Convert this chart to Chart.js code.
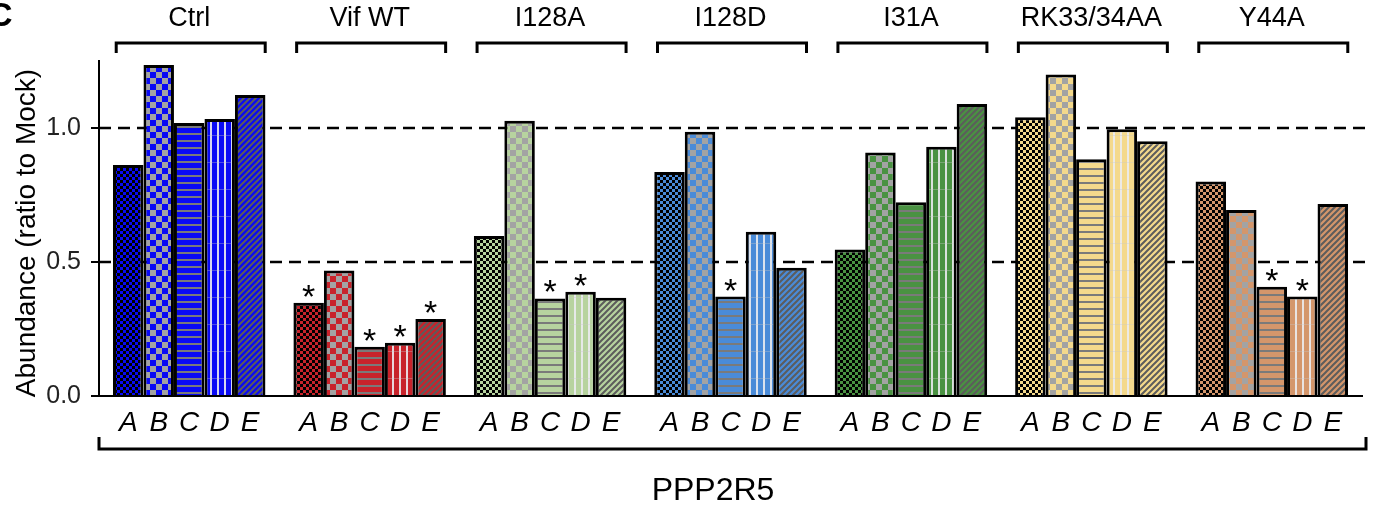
<!DOCTYPE html>
<html>
<head>
<meta charset="utf-8">
<script src="https://cdn.jsdelivr.net/npm/chart.js@4"></script>
<style>
  html, body { margin: 0; padding: 0; background: #fff; }
  canvas { display: block; }
</style>
</head>
<body>
<canvas id="chart" width="1379" height="513"></canvas>
<script>
// groups and sub-bars
const groups = ["Ctrl", "Vif WT", "I128A", "I128D", "I31A", "RK33/34AA", "Y44A"];
const letters = ["A", "B", "C", "D", "E"];
const groupColors = ["#0a0af5", "#c8232b", "#b7d39f", "#4a8bd8", "#4a9242", "#f4d98c", "#d4966b"];

// values per letter, one per group
const valsA = [0.862, 0.348, 0.597, 0.836, 0.547, 1.040, 0.800];
const valsB = [1.235, 0.468, 1.027, 0.986, 0.909, 1.200, 0.694];
const valsC = [1.019, 0.184, 0.364, 0.371, 0.723, 0.883, 0.408];
const valsD = [1.034, 0.199, 0.389, 0.613, 0.930, 0.995, 0.371];
const valsE = [1.123, 0.287, 0.367, 0.479, 1.090, 0.951, 0.716];

// significance stars
const sigA = [0, 1, 0, 0, 0, 0, 0];
const sigB = [0, 0, 0, 0, 0, 0, 0];
const sigC = [0, 1, 1, 1, 0, 0, 1];
const sigD = [0, 1, 1, 0, 0, 0, 1];
const sigE = [0, 1, 0, 0, 0, 0, 0];

const yTicks = [0, 0.5, 1.0];
const refLines = [0.5, 1.0];

const allVals = [valsA, valsB, valsC, valsD, valsE];
const allSig = [sigA, sigB, sigC, sigD, sigE];
const FONT = '"Liberation Sans", Arial, sans-serif';

function makePattern(type, color) {
  const c = document.createElement('canvas');
  const g = c.getContext('2d');
  if (type === 0) {          // fine black checker
    c.width = 6; c.height = 6;
    g.fillStyle = color; g.fillRect(0, 0, 6, 6);
    g.fillStyle = '#000';
    g.fillRect(0, 0, 3, 3); g.fillRect(3, 3, 3, 3);
  } else if (type === 1) {   // coarse grey checker
    c.width = 12; c.height = 12;
    g.fillStyle = color; g.fillRect(0, 0, 12, 12);
    g.fillStyle = '#a3a3a3';
    g.fillRect(0, 0, 6, 6); g.fillRect(6, 6, 6, 6);
  } else if (type === 2) {   // horizontal stripes
    c.width = 8; c.height = 7;
    g.fillStyle = color; g.fillRect(0, 0, 8, 7);
    g.fillStyle = '#7a7a7a';
    g.fillRect(0, 0, 8, 2);
  } else if (type === 3) {   // vertical light stripes
    c.width = 7; c.height = 27;
    g.fillStyle = color; g.fillRect(0, 0, 7, 27);
    g.fillStyle = 'rgba(235,235,240,0.9)';
    g.fillRect(0, 0, 2, 27);
    g.fillStyle = 'rgba(200,200,200,0.35)';
    g.fillRect(0, 0, 7, 1);
  } else {                   // diagonal stripes
    c.width = 6; c.height = 6;
    g.fillStyle = color; g.fillRect(0, 0, 6, 6);
    g.strokeStyle = '#5c5c5c'; g.lineWidth = 2;
    g.beginPath();
    g.moveTo(-1, 1); g.lineTo(1, -1);
    g.moveTo(0, 6); g.lineTo(6, 0);
    g.moveTo(5, 7); g.lineTo(7, 5);
    g.stroke();
  }
  return g.createPattern(c, 'repeat');
}

const datasets = letters.map((l, i) => ({
  label: l,
  data: allVals[i],
  backgroundColor: groupColors.map(col => makePattern(i, col)),
  borderColor: '#000',
  borderWidth: 3,
  categoryPercentage: 0.845,
  barPercentage: 1.0
}));

const decor = {
  id: 'decor',
  beforeDatasetsDraw(chart) {
    const { ctx, chartArea, scales } = chart;
    ctx.save();
    ctx.strokeStyle = '#000';
    ctx.lineWidth = 2.5;
    ctx.setLineDash([12, 7]);
    refLines.forEach(v => {
      const y = Math.round(scales.y.getPixelForValue(v));
      ctx.beginPath();
      ctx.moveTo(chartArea.left, y);
      ctx.lineTo(chartArea.right + 4, y);
      ctx.stroke();
    });
    ctx.restore();
  },
  afterDraw(chart) {
    const { ctx, chartArea, scales } = chart;
    ctx.save();
    ctx.fillStyle = '#000';
    ctx.textAlign = 'center';

    // stars and letters under bars
    letters.forEach((l, d) => {
      const meta = chart.getDatasetMeta(d);
      meta.data.forEach((bar, g) => {
        if (allSig[d][g]) {
          ctx.font = '34px ' + FONT;
          ctx.textBaseline = 'alphabetic';
          ctx.fillText('*', bar.x, bar.y + 5);
        }
        ctx.font = 'italic 28px ' + FONT;
        ctx.textBaseline = 'middle';
        ctx.fillText(l, bar.x, 423);
      });
    });

    // group labels + brackets
    ctx.lineWidth = 3;
    ctx.strokeStyle = '#000';
    groups.forEach((name, g) => {
      const cx = scales.x.getPixelForValue(g);
      ctx.font = '27px ' + FONT;
      ctx.textBaseline = 'middle';
      ctx.fillText(name, cx, 19);
      ctx.beginPath();
      ctx.moveTo(cx - 73, 53);
      ctx.lineTo(cx - 73, 43);
      ctx.lineTo(cx + 76, 43);
      ctx.lineTo(cx + 76, 53);
      ctx.stroke();
    });

    // bottom bracket
    ctx.beginPath();
    ctx.moveTo(chartArea.left, 437);
    ctx.lineTo(chartArea.left, 449);
    ctx.lineTo(chartArea.right + 4, 449);
    ctx.lineTo(chartArea.right + 4, 437);
    ctx.stroke();

    ctx.font = '32px ' + FONT;
    ctx.textBaseline = 'middle';
    ctx.fillText('PPP2R5', 713, 491);

    // y title
    ctx.save();
    ctx.translate(27, 233);
    ctx.rotate(-Math.PI / 2);
    ctx.font = '28px ' + FONT;
    ctx.textBaseline = 'middle';
    ctx.fillText('Abundance (ratio to Mock)', 0, 0);
    ctx.restore();

    // panel letter
    ctx.textAlign = 'left';
    ctx.textBaseline = 'alphabetic';
    ctx.font = 'bold 34px ' + FONT;
    ctx.fillText('C', -12, 26);
    ctx.restore();
  }
};

new Chart(document.getElementById('chart'), {
  type: 'bar',
  data: { labels: groups, datasets: datasets },
  options: {
    responsive: false,
    animation: false,
    layout: { padding: { left: 39, right: 17, top: 61, bottom: 117 } },
    plugins: { legend: { display: false }, tooltip: { enabled: false } },
    scales: {
      x: {
        grid: { display: false },
        ticks: { display: false },
        border: { display: true, color: '#000', width: 2 },
        afterFit: s => { s.height = 0; }
      },
      y: {
        min: 0,
        max: 1.25,
        afterBuildTicks: s => { s.ticks = yTicks.map(v => ({ value: v })); },
        ticks: {
          callback: v => v.toFixed(1),
          color: '#222',
          padding: 10,
          font: { size: 25, family: FONT }
        },
        grid: { drawOnChartArea: false, drawTicks: true, tickLength: 8, color: '#000', lineWidth: 2 },
        border: { display: true, color: '#000', width: 2 },
        afterFit: s => { s.width = 60; }
      }
    }
  },
  plugins: [decor]
});
</script>
</body>
</html>
